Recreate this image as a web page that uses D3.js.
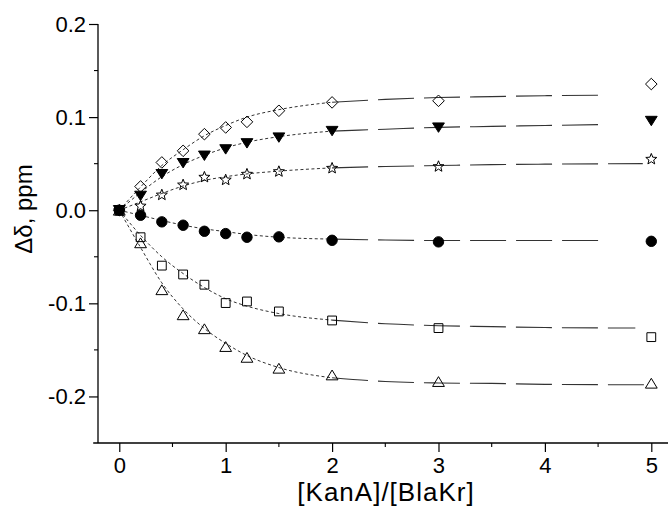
<!DOCTYPE html>
<html><head><meta charset="utf-8">
<script src="https://cdn.jsdelivr.net/npm/d3@7"></script>
<style>body{margin:0;background:#fff}text{font-family:"Liberation Sans",Arial,sans-serif;fill:#000}</style>
</head><body>
<svg id="c" width="668" height="509"></svg>
<script>
// ---- data ----
const ratio = [0, 0.2, 0.4, 0.6, 0.8, 1.0, 1.2, 1.5, 2, 3, 5];
const diamondVals = [0, 0.0255, 0.0513, 0.0638, 0.0817, 0.0889, 0.0949, 0.1068, 0.1158, 0.1175, 0.1355];
const downTriVals = [0, 0.0154, 0.0387, 0.0505, 0.0585, 0.0653, 0.0718, 0.078, 0.085, 0.0887, 0.0958];
const starVals    = [0, 0.0050, 0.0169, 0.0277, 0.036, 0.033, 0.0392, 0.042, 0.0456, 0.0474, 0.0553];
const circleVals  = [0, -0.0054, -0.0125, -0.0161, -0.0226, -0.0251, -0.029, -0.0286, -0.0323, -0.034, -0.0334];
const squareVals  = [0, -0.029, -0.0595, -0.069, -0.080, -0.0997, -0.098, -0.1087, -0.1184, -0.1266, -0.1363];
const upTriVals   = [0, -0.035, -0.0854, -0.1123, -0.1273, -0.1464, -0.158, -0.1697, -0.1769, -0.184, -0.1858];

// fitted curves
const fitX = [0, 0.2, 0.4, 0.6, 0.8, 1.0, 1.2, 1.5, 2, 2.5, 3, 3.5, 4];
const diamondFit = [0, 0.025, 0.048, 0.065, 0.080, 0.091, 0.100, 0.108, 0.116, 0.119, 0.121, 0.122, 0.123];
const downTriFit = [0, 0.019, 0.036, 0.049, 0.059, 0.067, 0.073, 0.079, 0.085, 0.087, 0.089, 0.090, 0.091];
const starFit    = [0, 0.009, 0.018, 0.026, 0.032, 0.036, 0.039, 0.042, 0.0455, 0.047, 0.048, 0.049, 0.0495];
const circleFit  = [0, -0.0055, -0.011, -0.016, -0.020, -0.023, -0.026, -0.029, -0.031, -0.032, -0.0325, -0.0325, -0.0325];
const squareFit  = [0, -0.027, -0.050, -0.068, -0.083, -0.095, -0.103, -0.111, -0.118, -0.122, -0.124, -0.125, -0.126];
const upTriFit   = [0, -0.040, -0.078, -0.106, -0.127, -0.143, -0.156, -0.169, -0.180, -0.184, -0.1855, -0.186, -0.187];
const fitEndX    = [4.57, 4.57, 4.92, 4.57, 4.85, 4.98];
const fitEndY    = [0.1235, 0.092, 0.050, -0.0325, -0.1265, -0.1875];

const xTicks = [0, 1, 2, 3, 4, 5];
const xMinor = [0.5, 1.5, 2.5, 3.5, 4.5];
const yTicks = [-0.2, -0.1, 0.0, 0.1, 0.2];
const yMinor = [-0.15, -0.05, 0.05, 0.15];
const xTitle = "[KanA]/[BlaKr]";
const yTitle = "Δδ, ppm";

// ---- chart ----
const svg = d3.select("#c");
const x = d3.scaleLinear().domain([-0.2, 5]).range([98, 651.3]);
const y = d3.scaleLinear().domain([-0.25, 0.2]).range([443, 24]);

const series = [
  {vals: diamondVals, fit: diamondFit, sym: "diamond"},
  {vals: downTriVals, fit: downTriFit, sym: "down"},
  {vals: starVals, fit: starFit, sym: "star"},
  {vals: circleVals, fit: circleFit, sym: "circle"},
  {vals: squareVals, fit: squareFit, sym: "square"},
  {vals: upTriVals, fit: upTriFit, sym: "up"}
];

// axes
const yAxis = d3.axisLeft(y).tickValues(yTicks).tickSize(9).tickPadding(3)
  .tickFormat(d => d.toFixed(1));
const gy = svg.append("g").attr("transform", `translate(${x(-0.2)},0)`).call(yAxis);
gy.select(".domain").remove();
gy.append("line").attr("x1", 0).attr("x2", 0).attr("y1", y(0.2)).attr("y2", y(-0.25))
  .attr("stroke", "#000").attr("stroke-width", 1.3);
gy.selectAll(".tick line").attr("stroke-width", 1.2);
gy.selectAll(".tick text").style("font-size", "22px");
gy.selectAll(".minor").data(yMinor).enter().append("line")
  .attr("x1", -4).attr("x2", 0).attr("y1", d => y(d)).attr("y2", d => y(d))
  .attr("stroke", "#000").attr("stroke-width", 1.1);

const xAxis = d3.axisBottom(x).tickValues(xTicks).tickSize(9).tickPadding(5)
  .tickFormat(d3.format("d"));
const gx = svg.append("g").attr("transform", `translate(0,${y(-0.25)})`).call(xAxis);
gx.select(".domain").remove();
gx.append("line").attr("x1", x(-0.245)).attr("x2", x(5.16)).attr("y1", 0).attr("y2", 0)
  .attr("stroke", "#000").attr("stroke-width", 1.3);
gx.selectAll(".tick line").attr("stroke-width", 1.2);
gx.selectAll(".tick text").style("font-size", "22px");
gx.selectAll(".minor").data(xMinor).enter().append("line")
  .attr("x1", d => x(d)).attr("x2", d => x(d)).attr("y1", 0).attr("y2", 4)
  .attr("stroke", "#000").attr("stroke-width", 1.1);

svg.append("text").attr("x", 386).attr("y", 501).attr("text-anchor", "middle")
  .style("font-size", "26px").style("letter-spacing", "1px").text(xTitle);
svg.append("text").attr("transform", "translate(32,209) rotate(-90)")
  .attr("text-anchor", "middle").style("font-size", "24px").text(yTitle);

// curves
const line = d3.line().x(d => x(d[0])).y(d => y(d[1])).curve(d3.curveMonotoneX);
series.forEach((s, i) => {
  const pts = fitX.map((xv, j) => [xv, s.fit[j]]);
  pts.push([fitEndX[i], fitEndY[i]]);
  const near = pts.filter(p => p[0] <= 2);
  const far = pts.filter(p => p[0] >= 2);
  svg.append("path").attr("d", line(near)).attr("fill", "none")
    .attr("stroke", "#333").attr("stroke-width", 1).attr("stroke-dasharray", "3,2.5");
  svg.append("path").attr("d", line(far)).attr("fill", "none")
    .attr("stroke", "#333").attr("stroke-width", 1.1).attr("stroke-dasharray", "36,10");
});

// markers
function starPath(R, r) {
  const p = [];
  for (let k = 0; k < 10; k++) {
    const a = -Math.PI / 2 + k * Math.PI / 5;
    const rr = k % 2 === 0 ? R : r;
    p.push([rr * Math.cos(a), rr * Math.sin(a) + 0.5]);
  }
  return "M" + p.map(q => q.join(",")).join("L") + "Z";
}
const shapes = {
  diamond: "M0,-5.8L5.8,0L0,5.8L-5.8,0Z",
  down: "M-5.9,-4.7L5.9,-4.7L0,4.7Z",
  up: "M-5.9,4.9L5.9,4.9L0,-4.9Z",
  square: "M-4.4,-4.4L4.4,-4.4L4.4,4.4L-4.4,4.4Z",
  circle: "M5.2,0A5.2,5.2 0 1,1 -5.2,0A5.2,5.2 0 1,1 5.2,0Z",
  star: starPath(5.8, 2.5)
};
const filled = {down: true, circle: true};
series.forEach(s => {
  svg.append("g").selectAll("path").data(ratio.map((r, j) => [r, s.vals[j]])).enter()
    .append("path")
    .attr("transform", d => `translate(${x(d[0])},${y(d[1])})`)
    .attr("d", shapes[s.sym])
    .attr("fill", filled[s.sym] ? "#000" : "none")
    .attr("stroke", "#000").attr("stroke-width", 1);
});
</script>
</body></html>
